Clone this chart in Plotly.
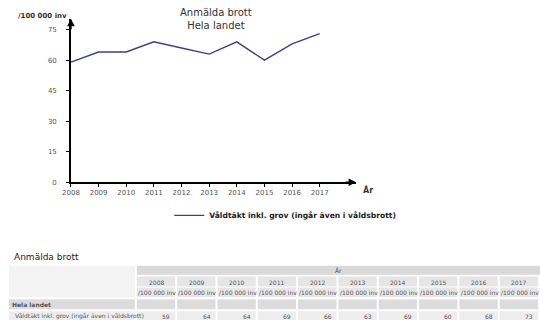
import plotly.graph_objects as go

years = [2008, 2009, 2010, 2011, 2012, 2013, 2014, 2015, 2016, 2017]
values = [59, 64, 64, 69, 66, 63, 69, 60, 68, 73]
series_name = "Våldtäkt inkl. grov (ingår även i våldsbrott)"
title_lines = ["Anmälda brott", "Hela landet"]
unit = "/100 000 inv"
region = "Hela landet"
y_ticks = [0, 15, 30, 45, 60, 75]
x_title = "År"

W, H = 540, 331
FONT = "DejaVu Sans"

def px(x):
    return x / W

def py(y):
    return 1 - y / H

fig = go.Figure()
fig.add_trace(go.Scatter(
    x=years, y=values, mode="lines", name="<b>" + series_name + "</b>",
    line=dict(color="#3c3c9b", width=1.4),
))

x_left, x_right = 63, 353
y_bottom, y_top = 184.5, 19
ppy = (316 - 63) / 9
ppv = (184.5 - 30) / 75
fig.update_xaxes(
    domain=[px(x_left), px(x_right)],
    range=[years[0], years[0] + (x_right - x_left) / ppy],
    tickvals=years, ticktext=[str(y) for y in years],
    showline=True, linecolor="black", linewidth=1.5,
    ticks="outside", ticklen=3, tickcolor="black", tickwidth=1,
    showgrid=False, zeroline=False,
    tickfont=dict(family=FONT, size=7, color="#555555"),
)
fig.update_yaxes(
    domain=[py(y_bottom), py(y_top)],
    range=[0, 75 + (30 - y_top) / ppv],
    tickvals=y_ticks,
    showline=True, linecolor="black", linewidth=1.5,
    ticks="outside", ticklen=3, tickcolor="black", tickwidth=1,
    ticklabelstandoff=8,
    showgrid=False, zeroline=False,
    tickfont=dict(family=FONT, size=7, color="#555555"),
)

def ann(x, y, text, font, xanchor="center", **kw):
    d = dict(xref="paper", yref="paper", x=px(x), y=py(y), text=text,
             xanchor=xanchor, yanchor="middle", showarrow=False, font=font)
    d.update(kw)
    return d

anns = []
# arrows
anns.append(dict(xref="paper", yref="paper", x=px(x_right), y=py(y_bottom),
                 ax=-12, ay=0, text="", showarrow=True, arrowhead=2,
                 arrowsize=1, arrowwidth=1.5, arrowcolor="black"))
anns.append(dict(xref="paper", yref="paper", x=px(x_left), y=py(y_top),
                 ax=0, ay=12, text="", showarrow=True, arrowhead=2,
                 arrowsize=1, arrowwidth=1.5, arrowcolor="black"))
anns.append(ann(358, 192, "<b>" + x_title + "</b>",
                dict(family=FONT, size=8, color="#333"), xanchor="left"))
anns.append(ann(7, 16, "<b>" + unit + "</b>",
                dict(family=FONT, size=7, color="#333"), xanchor="left"))
anns.append(ann(210, 19, "<br>".join(title_lines),
                dict(family=FONT, size=10, color="#333")))

# ---- table ----
shapes = []
anns.append(ann(3, 260, "Anmälda brott", dict(family=FONT, size=9, color="#222"),
                xanchor="left"))
tf = dict(family=FONT, size=6, color="#555555")
col0_r = 128
cx0, cw, gap = 130, 41, 2
rows = [(269, 278), (280, 290), (291, 301), (303, 313), (315, 324)]

def rect(x0, y0, x1, y1, color):
    shapes.append(dict(type="rect", xref="paper", yref="paper",
                       x0=px(x0), x1=px(x1), y0=py(y1), y1=py(y0),
                       fillcolor=color, line=dict(width=0), layer="below"))

def mid(r):
    return (r[0] + r[1]) / 2 + 0.5

rect(0, rows[0][0], col0_r, rows[2][1], "#f3f3f3")
rect(cx0, rows[0][0], W, rows[0][1], "#d9d9d9")
anns.append(ann(cx0 + len(years) * cw / 2, mid(rows[0]), x_title, tf))
rect(0, rows[3][0], col0_r, rows[3][1], "#dcdcdc")
rect(0, rows[4][0], col0_r, rows[4][1], "#ededed")
anns.append(ann(1, mid(rows[3]), "<b>" + region + "</b>", tf, xanchor="left"))
anns.append(ann(4, mid(rows[4]), series_name, tf, xanchor="left"))
for i, (yr, v) in enumerate(zip(years, values)):
    x0 = cx0 + i * cw
    x1 = x0 + cw - gap
    rect(x0, rows[1][0], x1, rows[1][1], "#e6e6e6")
    rect(x0, rows[2][0], x1, rows[2][1], "#e6e6e6")
    rect(x0, rows[3][0], x1, rows[3][1], "#dcdcdc")
    rect(x0, rows[4][0], x1, rows[4][1], "#ededed")
    anns.append(ann((x0 + x1) / 2, mid(rows[1]), str(yr), tf))
    anns.append(ann((x0 + x1) / 2 + 1, mid(rows[2]), unit, tf))
    anns.append(ann(x1 - 3, mid(rows[4]), str(v), tf, xanchor="right"))

fig.update_layout(
    width=W, height=H, margin=dict(l=0, r=0, t=0, b=0),
    paper_bgcolor="white", plot_bgcolor="white",
    showlegend=True,
    legend=dict(x=px(163), y=py(218), xanchor="left", yanchor="middle",
                orientation="h", bgcolor="rgba(0,0,0,0)",
                font=dict(family=FONT, size=7.6, color="#222")),
    annotations=anns, shapes=shapes,
)
fig.write_html("out.html")
